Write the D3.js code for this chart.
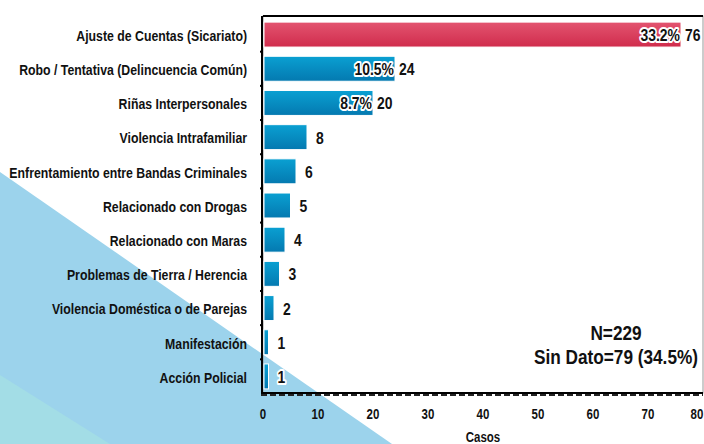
<!DOCTYPE html>
<html>
<head>
<meta charset="utf-8">
<script src="https://cdn.jsdelivr.net/npm/d3@7"></script>
<style>
  body { margin: 0; background: #fff; }
  svg { display: block; }
</style>
</head>
<body>
<script>
const width = 704;
const height = 444;

const categories = [
  "Ajuste de Cuentas (Sicariato)",
  "Robo / Tentativa (Delincuencia Común)",
  "Riñas Interpersonales",
  "Violencia Intrafamiliar",
  "Enfrentamiento entre Bandas Criminales",
  "Relacionado con Drogas",
  "Relacionado con Maras",
  "Problemas de Tierra / Herencia",
  "Violencia Doméstica o de Parejas",
  "Manifestación",
  "Acción Policial"
];
const casos = [76, 24, 20, 8, 6, 5, 4, 3, 2, 1, 1];
const porcentajes = ["33.2%", "10.5%", "8.7%", null, null, null, null, null, null, null, null];
const xTicks = [0, 10, 20, 30, 40, 50, 60, 70, 80];
const notas = ["N=229", "Sin Dato=79 (34.5%)"];

const font = "'Liberation Sans', Arial, sans-serif";
const narrow = 0.82; // imitar Arial Narrow
const margin = { top: 16, right: 1, bottom: 51, left: 263 };

const svg = d3.select("body")
  .append("svg")
  .attr("width", width)
  .attr("height", height);

// fondo decorativo
svg.append("path")
  .attr("d", "M0,172 L392,444 L0,444 Z")
  .attr("fill", "#9cd3ec");
svg.append("path")
  .attr("d", "M0,375 L110,444 L0,444 Z")
  .attr("fill", "#a3dde6");

const defs = svg.append("defs");
const gradBlue = defs.append("linearGradient").attr("id", "gBlue")
  .attr("x1", 0).attr("x2", 0).attr("y1", 0).attr("y2", 1);
gradBlue.append("stop").attr("offset", "0%").attr("stop-color", "#0aa0d2");
gradBlue.append("stop").attr("offset", "100%").attr("stop-color", "#0479b0");
const gradRed = defs.append("linearGradient").attr("id", "gRed")
  .attr("x1", 0).attr("x2", 0).attr("y1", 0).attr("y2", 1);
gradRed.append("stop").attr("offset", "0%").attr("stop-color", "#e35470");
gradRed.append("stop").attr("offset", "100%").attr("stop-color", "#d02c4c");

const x = d3.scaleLinear()
  .domain([0, 80])
  .range([margin.left, width - margin.right]);

const y = d3.scaleBand()
  .domain(categories)
  .range([margin.top + 2, height - margin.bottom])
  .paddingInner(0.27)
  .paddingOuter(0.12);

// texto condensado: posicion con transform y escala horizontal
const place = (px, py) => `translate(${px},${py}) scale(${narrow},1)`;

// area del grafico
svg.append("rect")
  .attr("x", margin.left)
  .attr("y", margin.top)
  .attr("width", width - margin.right - margin.left)
  .attr("height", height - margin.bottom - margin.top)
  .attr("fill", "none")
  .attr("stroke", "#999")
  .attr("stroke-width", 1);

// barras
svg.append("g")
  .selectAll("rect")
  .data(categories)
  .join("rect")
  .attr("x", x(0) + 1)
  .attr("y", d => y(d))
  .attr("width", (d, i) => x(casos[i]) - x(0) - 1)
  .attr("height", y.bandwidth())
  .attr("fill", (d, i) => i === 0 ? "url(#gRed)" : "url(#gBlue)")
  .attr("stroke", "#fff")
  .attr("stroke-width", 1);

// bordes negros
svg.append("line")
  .attr("x1", margin.left).attr("x2", width - margin.right)
  .attr("y1", margin.top).attr("y2", margin.top)
  .attr("stroke", "#000").attr("stroke-width", 2);
svg.append("line")
  .attr("x1", margin.left - 1).attr("x2", margin.left - 1)
  .attr("y1", margin.top).attr("y2", height - margin.bottom)
  .attr("stroke", "#000").attr("stroke-width", 2);
svg.append("line")
  .attr("x1", margin.left - 2).attr("x2", width - margin.right)
  .attr("y1", height - margin.bottom).attr("y2", height - margin.bottom)
  .attr("stroke", "#000").attr("stroke-width", 2);
svg.append("line")
  .attr("x1", margin.left - 2).attr("x2", width - margin.right)
  .attr("y1", height - margin.bottom + 2).attr("y2", height - margin.bottom + 2)
  .attr("stroke", "#222").attr("stroke-width", 2)
  .attr("stroke-dasharray", "6,3");

// marcas del eje y
svg.append("g")
  .selectAll("line")
  .data(categories.slice(1))
  .join("line")
  .attr("x1", margin.left - 3).attr("x2", margin.left)
  .attr("y1", d => y(d) - (y.step() - y.bandwidth()) / 2)
  .attr("y2", d => y(d) - (y.step() - y.bandwidth()) / 2)
  .attr("stroke", "#000").attr("stroke-width", 2);

// etiquetas de categorias
svg.append("g")
  .attr("font-family", font)
  .attr("font-weight", "bold")
  .attr("font-size", 15)
  .attr("fill", "#111")
  .attr("text-anchor", "end")
  .selectAll("text")
  .data(categories)
  .join("text")
  .attr("transform", d => place(margin.left - 16, y(d) + y.bandwidth() / 2))
  .attr("dy", "0.42em")
  .text(d => d);

// etiquetas de valores
const vals = svg.append("g")
  .attr("font-family", font)
  .attr("font-weight", "bold")
  .attr("font-size", 17)
  .attr("fill", "#111");

vals.selectAll("text.num")
  .data(categories)
  .join("text")
  .attr("class", "num")
  .attr("transform", (d, i) => place(x(casos[i]) + (porcentajes[i] ? 4 : 9), y(d) + y.bandwidth() / 2))
  .attr("dy", "0.38em")
  .text((d, i) => casos[i])
  .clone(true)
  .lower()
  .attr("stroke", "#fff")
  .attr("stroke-width", 4)
  .attr("stroke-linejoin", "round");

vals.selectAll("text.pct")
  .data(categories.filter((d, i) => porcentajes[i]))
  .join("text")
  .attr("class", "pct")
  .attr("text-anchor", "end")
  .attr("transform", (d, i) => place(x(casos[i]) - 1, y(d) + y.bandwidth() / 2))
  .attr("dy", "0.38em")
  .text((d, i) => porcentajes[i])
  .clone(true)
  .lower()
  .attr("stroke", "#fff")
  .attr("stroke-width", 4)
  .attr("stroke-linejoin", "round");

// eje x
svg.append("g")
  .attr("font-family", font)
  .attr("font-weight", "bold")
  .attr("font-size", 14)
  .attr("fill", "#111")
  .attr("text-anchor", "middle")
  .selectAll("text")
  .data(xTicks)
  .join("text")
  .attr("transform", d => place(Math.min(x(d), width - 7), 419))
  .text(d => d);

svg.append("text")
  .attr("transform", place(x(40), 442))
  .attr("text-anchor", "middle")
  .attr("font-family", font)
  .attr("font-weight", "bold")
  .attr("font-size", 14)
  .attr("fill", "#111")
  .text("Casos");

// notas
svg.append("g")
  .attr("font-family", font)
  .attr("font-weight", "bold")
  .attr("font-size", 21)
  .attr("fill", "#111")
  .attr("text-anchor", "middle")
  .selectAll("text")
  .data(notas)
  .join("text")
  .attr("transform", (d, i) => place(616, 340 + i * 24))
  .text(d => d);
</script>
</body>
</html>
